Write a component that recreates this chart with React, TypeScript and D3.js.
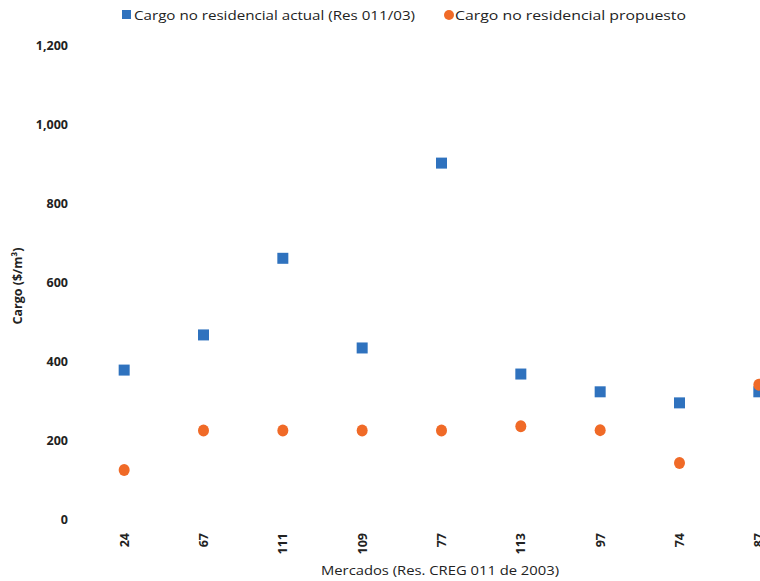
import React from "react";
import * as d3 from "d3";

const categories = ["24", "67", "111", "109", "77", "113", "97", "74", "87"];
const actualValues = [377, 466, 660, 433, 901, 367, 322, 294, 322];
const proposedValues = [124, 224, 224, 224, 224, 235, 225, 142, 340];
const yTicks = [0, 200, 400, 600, 800, 1000, 1200];
const seriesNames = ["Cargo no residencial actual (Res 011/03)", "Cargo no residencial propuesto"];

const W = 760;
const H = 581;
const BLUE = "#2F72BE";
const ORANGE = "#F06A27";
const FONT = "'Open Sans', 'Noto Sans', sans-serif";

export default function App() {
  const x = d3.scaleBand<string>().domain(categories).range([84.5, 798.5]).paddingInner(0).paddingOuter(0);
  const y = d3.scaleLinear().domain([0, 1200]).range([519, 45]);
  const fmt = d3.format(",");
  const cx = (c: string) => (x(c) as number) + x.bandwidth() / 2;

  return (
    <svg width={W} height={H} style={{ position: "absolute", left: 0, top: 0, background: "#fff" }} fontFamily={FONT}>
      <rect x={0} y={0} width={W} height={H} fill="#fff" />
      {/* Legend */}
      <rect x={122} y={10} width={9} height={9} fill={BLUE} />
      <text x={134} y={19.5} fontSize={13} fill="#222" textLength={281} lengthAdjust="spacingAndGlyphs">
        {seriesNames[0]}
      </text>
      <circle cx={449} cy={15} r={5} fill={ORANGE} />
      <text x={455} y={19.5} fontSize={13} fill="#222" textLength={231} lengthAdjust="spacingAndGlyphs">
        {seriesNames[1]}
      </text>

      {/* Y ticks */}
      {yTicks.map((t) => (
        <text key={t} x={68} y={y(t) + 4.5} fontSize={12.5} fontWeight="bold" fill="#222" textAnchor="end">
          {fmt(t)}
        </text>
      ))}
      <text
        transform={`translate(22,${y(600) + 4}) rotate(-90)`}
        fontSize={12.5}
        fontWeight="bold"
        fill="#222"
        textAnchor="middle"
      >
        Cargo ($/m³)
      </text>

      {/* X ticks */}
      {categories.map((c) => (
        <text
          key={c}
          transform={`translate(${cx(c) + 4.5},533) rotate(-90)`}
          fontSize={12.5}
          fontWeight="bold"
          fill="#222"
          textAnchor="end"
        >
          {c}
        </text>
      ))}
      <text x={440} y={575} fontSize={13} fill="#222" textAnchor="middle" textLength={238} lengthAdjust="spacingAndGlyphs">
        Mercados (Res. CREG 011 de 2003)
      </text>

      {/* Points */}
      {categories.map((c, i) => (
        <rect key={"a" + c} x={cx(c) - 5.5} y={y(actualValues[i]) - 5.5} width={11} height={11} fill={BLUE} />
      ))}
      {categories.map((c, i) => (
        <ellipse key={"p" + c} cx={cx(c)} cy={y(proposedValues[i])} rx={5.5} ry={6} fill={ORANGE} />
      ))}
    </svg>
  );
}
